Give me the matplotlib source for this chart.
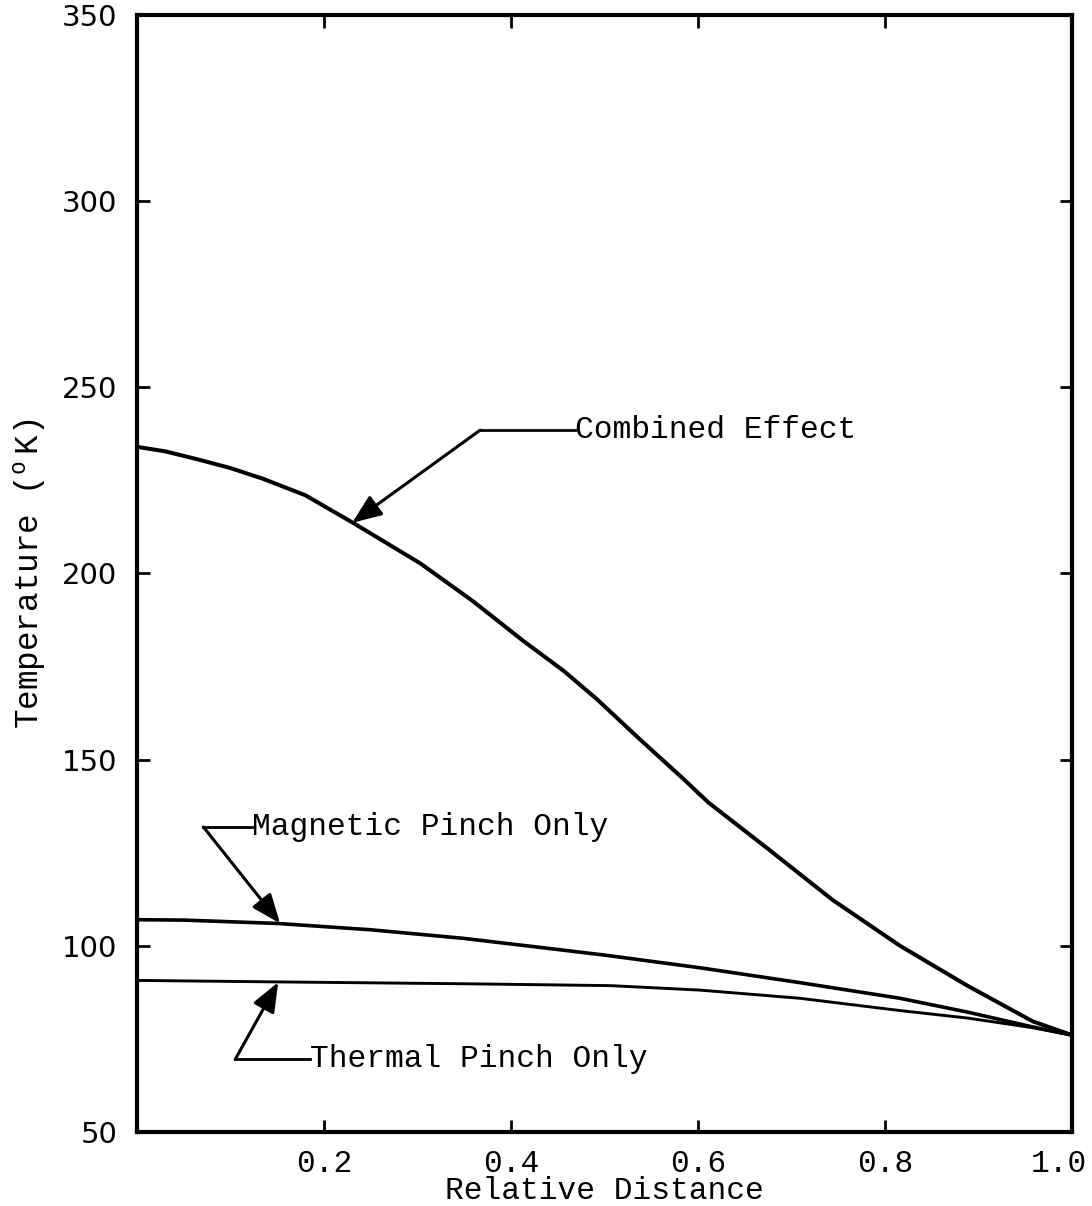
import matplotlib
matplotlib.use("Agg")
import matplotlib.pyplot as plt
import matplotlib.transforms as mtransforms

# ─────────────────────────────────────────────
# Temperature profiles vs relative distance
# ─────────────────────────────────────────────
combined_x = [0.0, 0.03, 0.064, 0.10, 0.135, 0.18, 0.231, 0.303, 0.359, 0.413,
              0.456, 0.492, 0.535, 0.584, 0.611, 0.674, 0.744, 0.816, 0.888,
              0.958, 1.0]
combined_t = [234, 232.8, 230.7, 228.3, 225.4, 221.0, 213.6, 202.7, 192.6, 181.9,
              173.9, 166.2, 156.1, 144.9, 138.5, 126.2, 112.3, 100.0, 89.3,
              79.7, 76]

magnetic_x = [0.0, 0.05, 0.15, 0.25, 0.349, 0.43, 0.50, 0.602, 0.709, 0.816,
              0.888, 0.958, 1.0]
magnetic_t = [107, 106.9, 106, 104.3, 102, 99.6, 97.5, 94.1, 90.1, 85.9,
              82.2, 78.2, 76]

thermal_x = [0.0, 0.15, 0.35, 0.506, 0.602, 0.709, 0.816, 0.888, 0.958, 1.0]
thermal_t = [90.7, 90.3, 89.8, 89.3, 88.1, 85.9, 82.6, 80.6, 78.0, 76]

x_ticks = [0.2, 0.4, 0.6, 0.8, 1.0]
x_tick_labels = ["0.2", "0.4", "0.6", "0.8", "1.0"]
y_ticks = [50, 100, 150, 200, 250, 300, 350]

# label text, text position (x, T), knee (x, T), arrow tip (x, T)
callouts = [
    ("Combined Effect",     (0.468, 238.5), (0.367, 238.5), (0.230, 213.6)),
    ("Magnetic Pinch Only", (0.123, 131.9), (0.071, 131.9), (0.153, 106.0)),
    ("Thermal Pinch Only",  (0.185, 69.5),  (0.105, 69.5),  (0.151, 90.2)),
]

MONO = "Liberation Mono"
plt.rcParams["mathtext.fontset"] = "custom"
plt.rcParams["mathtext.rm"] = MONO

fig = plt.figure(figsize=(10.92, 12.06), dpi=100)
ax = fig.add_axes([0.1255, 0.0614, 0.8562, 0.9262])

line_kw = dict(color="black", solid_capstyle="round", solid_joinstyle="round")
ax.plot(combined_x, combined_t, lw=2.9, **line_kw)
ax.plot(magnetic_x, magnetic_t, lw=2.6, **line_kw)
ax.plot(thermal_x, thermal_t, lw=2.1, **line_kw)

for label, txt_pos, knee, tip in callouts:
    ax.plot([knee[0], txt_pos[0]], [knee[1], txt_pos[1]], color="black", lw=2.0)
    ax.annotate("", xy=tip, xytext=knee,
                arrowprops=dict(arrowstyle="-|>,head_length=1.0,head_width=0.4",
                                mutation_scale=18, color="black", lw=2.2,
                                shrinkA=0, shrinkB=0))
    ax.text(txt_pos[0], txt_pos[1], label, family=MONO, fontsize=22.5,
            ha="left", va="center")

ax.set_xlim(0, 1.0)
ax.set_ylim(50, 350)
ax.set_xticks(x_ticks)
ax.set_xticklabels(x_tick_labels, family=MONO, fontsize=22.5)
ax.set_yticks(y_ticks)
ax.set_yticklabels([str(v) for v in y_ticks], family="DejaVu Sans", fontsize=21)

ax.tick_params(axis="both", direction="in", length=9, width=2,
               top=True, right=True)
ax.tick_params(axis="x", pad=12)
ax.tick_params(axis="y", pad=14)

# nudge the last x label so it stays inside the page
shift = mtransforms.ScaledTranslation(-13 / 100, 0, fig.dpi_scale_trans)
last = ax.get_xticklabels()[-1]
last.set_transform(last.get_transform() + shift)

for sp in ax.spines.values():
    sp.set_linewidth(3)

ax.set_xlabel("Relative Distance", family=MONO, fontsize=22.5, labelpad=-2)
ax.set_ylabel(r"Temperature ($\mathrm{^{o}\,K}$)", family=MONO, fontsize=23.5,
              labelpad=10)

fig.savefig("out.png", dpi=100)
